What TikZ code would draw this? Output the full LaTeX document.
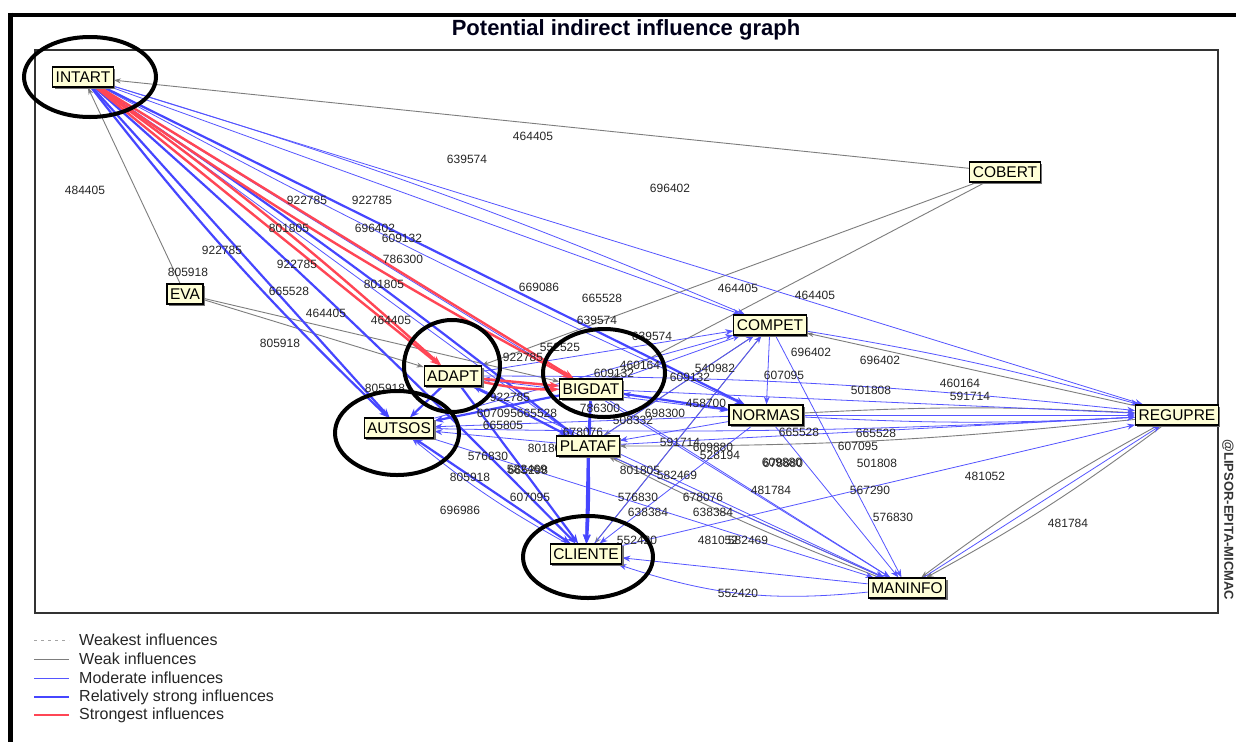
\documentclass[tikz,border=0pt]{standalone}
\usepackage{fontspec}
\setmainfont{Liberation Sans}
\usetikzlibrary{arrows.meta,shadows}
\definecolor{mblue}{RGB}{85,85,255}
\definecolor{sblue}{RGB}{70,70,255}
\definecolor{sred}{RGB}{255,70,85}
\definecolor{wgray}{RGB}{125,125,125}
\definecolor{nfill}{RGB}{255,255,215}
\pgfdeclarelayer{paper}
\pgfdeclarelayer{edges}
\pgfdeclarelayer{labs}
\pgfsetlayers{paper,edges,labs,main}
\newcommand\numlab[3]{\node[num] (#1) at (#2) {#3};}
\begin{document}
\begin{tikzpicture}[x=1pt,y=-1pt,
  var/.style={draw=black, line width=1.2pt, fill=nfill, font=\fontsize{15.5}{16}\selectfont,
    inner xsep=3pt, inner ysep=0pt, minimum height=20pt, text height=11.5pt, text depth=0pt,
    drop shadow={shadow xshift=1.8pt, shadow yshift=-1.8pt, fill=black!55, opacity=1}},
  num/.style={font=\fontsize{12}{12}\selectfont, inner sep=0pt, text=black!85},
  weak/.style={draw=wgray, line width=0.9pt, -{Stealth[length=7pt,width=5pt]}},
  mod/.style={draw=mblue, line width=0.8pt, -{Stealth[length=8pt,width=6pt]}},
  rst/.style={draw=sblue, line width=2.2pt, -{Stealth[length=9pt,width=7pt]}},
  redst/.style={draw=sred, line width=2.4pt, -{Stealth[length=10pt,width=7pt]}},
  ring/.style={draw=black, line width=4pt},
  legtxt/.style={anchor=west, font=\fontsize{16}{16}\selectfont, text=black!85, inner sep=0pt}]
\useasboundingbox (0,0) rectangle (1236,742);
\begin{pgfonlayer}{paper}
\fill[white] (0,0) rectangle (1236,742);
\end{pgfonlayer}
% frames
\draw[line width=4pt] (8,14.5) -- (1236,14.5);
\draw[line width=4.5pt] (10.5,12.5) -- (10.5,742);
\draw[line width=1.2pt, draw=black!80] (35,50) rectangle (1218,613);
\node[font=\fontsize{22}{22}\selectfont\bfseries, text=black!90!blue] (title) at (626,30) {Potential indirect influence graph};
\node[rotate=-90, font=\fontsize{13}{13}\selectfont\bfseries, text=black!80] (wm) at (1228,520) {@LIPSOR-EPITA-MICMAC};

% variables
\node[var] (intart) at (83,77) {INTART};
\node[var] (cobert) at (1005,172) {COBERT};
\node[var] (eva) at (185,294) {EVA};
\node[var] (compet) at (770,325) {COMPET};
\node[var] (adapt) at (453,376) {ADAPT};
\node[var] (bigdat) at (591,389) {BIGDAT};
\node[var] (autsos) at (399,428) {AUTSOS};
\node[var] (normas) at (766,415) {NORMAS};
\node[var] (regupre) at (1177,415) {REGUPRE};
\node[var] (plataf) at (588,446) {PLATAF};
\node[var] (cliente) at (586,554) {CLIENTE};
\node[var] (maninfo) at (907,588) {MANINFO};

\begin{pgfonlayer}{edges}
% weak
\draw[weak] (cobert) -- (intart);
\draw[weak] (cobert) -- (adapt);
\draw[weak] (cobert) -- (bigdat);
\draw[weak] (eva) -- (intart);
\draw[weak] (eva) -- (adapt);
\draw[weak] (eva) -- (bigdat);
\draw[weak] (regupre) -- (compet);
\draw[weak] (regupre) to[bend left=4] (maninfo);
\draw[weak] (regupre) to[bend right=4] (maninfo);
\draw[weak] (regupre) to[bend left=3] (plataf);
\draw[weak] (normas) to[bend left=3] (regupre);
\draw[weak] (maninfo) -- (plataf);
\draw[weak] (maninfo) to[bend left=3] (plataf);
\draw[weak] (compet) -- (plataf);
\draw[weak] (compet) -- (cliente);
% moderate
\draw[mod] (intart) -- (regupre);
\draw[mod] (intart) -- (compet);
\draw[mod] (intart) to[bend left=3] (compet);
\draw[mod] (intart) to[bend right=2] (normas);
\draw[mod] (intart) -- (plataf);
\draw[mod] (intart) -- (maninfo);
\draw[mod] (intart) to[bend right=3] (bigdat);
\draw[mod] (adapt) -- (compet);
\draw[mod] (bigdat) -- (compet);
\draw[mod] (autsos) -- (compet);
\draw[mod] (plataf) -- (compet);
\draw[mod] (cliente) -- (compet);
\draw[mod] (compet) -- (normas);
\draw[mod] (compet) to[bend left=3] (regupre);
\draw[mod] (adapt) to[bend left=3] (regupre);
\draw[mod] (bigdat) -- (regupre);
\draw[mod] (autsos) to[bend right=2] (regupre);
\draw[mod] (plataf) -- (regupre);
\draw[mod] (cliente) -- (regupre);
\draw[mod] (maninfo) -- (regupre);
\draw[mod] (normas) to[bend right=3] (regupre);
\draw[mod] (normas) -- (regupre);
\draw[mod] (normas) -- (plataf);
\draw[mod] (normas) -- (bigdat);
\draw[mod] (normas) -- (autsos);
\draw[mod] (normas) -- (maninfo);
\draw[mod] (normas) -- (cliente);
\draw[mod] (adapt) -- (maninfo);
\draw[mod] (bigdat) -- (maninfo);
\draw[mod] (autsos) -- (maninfo);
\draw[mod] (plataf) -- (maninfo);
\draw[mod] (compet) -- (maninfo);
\draw[mod] (maninfo) -- (cliente);
\draw[mod] (maninfo) to[bend left=12] (cliente);
\draw[mod] (cliente) -- (autsos);
\draw[mod] (cliente) to[bend left=5] (autsos);
\draw[mod] (plataf) -- (autsos);
\draw[mod] (bigdat) -- (adapt);
\draw[mod] (plataf) -- (adapt);
\draw[mod] (adapt) -- (normas);
\draw[mod] (autsos) -- (bigdat);
\draw[mod] (cliente) -- (bigdat);
% relatively strong
\draw[rst] (intart) -- (autsos);
\draw[rst] (intart) to[bend right=4] (autsos);
\draw[rst] (intart) to[bend left=2] (plataf);
\draw[rst] (intart) to[bend left=2] (cliente);
\draw[rst] (intart) -- (normas);
\draw[rst] (adapt) -- (cliente);
\draw[rst] (bigdat) -- (cliente);
\draw[rst] (plataf) -- (cliente);
\draw[rst] (plataf) to[bend left=3] (cliente);
\draw[rst] (autsos) -- (cliente);
\draw[rst] (adapt) -- (plataf);
\draw[rst] (bigdat) -- (plataf);
\draw[rst] (adapt) -- (autsos);
\draw[rst] (bigdat) -- (autsos);
\draw[rst] (bigdat) -- (normas);
% strongest
\draw[redst] (intart) -- (adapt);
\draw[redst] (intart) to[bend left=3] (adapt);
\draw[redst] (intart) -- (bigdat);
\draw[redst] (intart) to[bend right=3] (bigdat);
\draw[redst] (adapt) -- (bigdat);
\draw[redst] (adapt) to[bend right=6] (bigdat);
\end{pgfonlayer}

\begin{pgfonlayer}{labs}
\numlab{l1}{533,136}{464405}
\numlab{l2}{467,159}{639574}
\numlab{l3}{670,188}{696402}
\numlab{l4}{85,190}{484405}
\numlab{l5}{307,200}{922785}
\numlab{l6}{372,200}{922785}
\numlab{l7}{289,228}{801805}
\numlab{l8}{375,228}{696402}
\numlab{l9}{402,238}{609132}
\numlab{l10}{222,250}{922785}
\numlab{l11}{403,259}{786300}
\numlab{l12}{297,264}{922785}
\numlab{l13}{188,272}{805918}
\numlab{l14}{289,291}{665528}
\numlab{l15}{384,284}{801805}
\numlab{l16}{539,287}{669086}
\numlab{l17}{602,298}{665528}
\numlab{l18}{738,288}{464405}
\numlab{l19}{815,295}{464405}
\numlab{l20}{326,313}{464405}
\numlab{l21}{391,320}{464405}
\numlab{l22}{597,320}{639574}
\numlab{l23}{652,336}{639574}
\numlab{l24}{280,343}{805918}
\numlab{l25}{560,347}{552525}
\numlab{l26}{523,357}{922785}
\numlab{l27}{811,352}{696402}
\numlab{l28}{880,360}{696402}
\numlab{l29}{640,365}{460164}
\numlab{l30}{614,373}{609132}
\numlab{l31}{715,368}{540982}
\numlab{l32}{690,377}{609132}
\numlab{l33}{784,375}{607095}
\numlab{l34}{960,383}{460164}
\numlab{l35}{871,390}{501808}
\numlab{l36}{970,396}{591714}
\numlab{l37}{385,388}{805918}
\numlab{l38}{706,403}{458700}
\numlab{l39}{600,408}{786300}
\numlab{l40}{665,413}{698300}
\numlab{l41}{633,420}{508332}
\numlab{l42}{510,397}{922785}
\numlab{l43}{497,413}{607095}
\numlab{l44}{537,413}{665528}
\numlab{l45}{503,425}{665805}
\numlab{l46}{583,432}{678076}
\numlab{l47}{680,442}{591714}
\numlab{l48}{713,447}{609880}
\numlab{l49}{720,455}{528194}
\numlab{l50}{488,456}{576830}
\numlab{l51}{548,448}{801805}
\numlab{l52}{527,469}{582469}
\numlab{l53}{528,470}{665298}
\numlab{l54}{470,477}{805918}
\numlab{l55}{640,470}{801805}
\numlab{l56}{677,475}{582469}
\numlab{l57}{530,497}{607095}
\numlab{l58}{638,497}{576830}
\numlab{l59}{703,497}{678076}
\numlab{l60}{460,510}{696986}
\numlab{l61}{648,512}{638384}
\numlab{l62}{713,512}{638384}
\numlab{l63}{637,540}{552420}
\numlab{l64}{718,540}{481052}
\numlab{l65}{748,540}{582469}
\numlab{l66}{738,593}{552420}
\numlab{l67}{771,490}{481784}
\numlab{l68}{870,490}{567290}
\numlab{l69}{893,517}{576830}
\numlab{l70}{985,476}{481052}
\numlab{l71}{1068,523}{481784}
\numlab{l72}{799,432}{665528}
\numlab{l73}{876,433}{665528}
\numlab{l74}{858,446}{607095}
\numlab{l75}{877,463}{501808}
\numlab{l76}{782,462}{609880}
\numlab{l77}{783,463}{678880}
\end{pgfonlayer}

% highlight rings
\draw[ring] (90,77) ellipse [x radius=66pt, y radius=40pt];
\draw[ring] (452,366) ellipse [x radius=48pt, y radius=46pt];
\draw[ring] (604,373) ellipse [x radius=61pt, y radius=44pt];
\draw[ring] (397,433) ellipse [x radius=62pt, y radius=42pt];
\draw[ring] (588,557) ellipse [x radius=65pt, y radius=41pt];

% legend
\draw[wgray!70, line width=0.8pt, dash pattern=on 3pt off 4pt] (34,640) -- (69,640);
\draw[wgray, line width=1pt] (34,659) -- (69,659);
\draw[mblue, line width=1pt] (34,678) -- (69,678);
\draw[sblue, line width=2.4pt] (34,697) -- (69,697);
\draw[sred, line width=2.6pt] (34,715) -- (69,715);
\node[legtxt] (g1) at (79,640) {Weakest influences};
\node[legtxt] (g2) at (79,659) {Weak influences};
\node[legtxt] (g3) at (79,678) {Moderate influences};
\node[legtxt] (g4) at (79,697) {Relatively strong influences};
\node[legtxt] (g5) at (79,715) {Strongest influences};
\end{tikzpicture}
\end{document}
